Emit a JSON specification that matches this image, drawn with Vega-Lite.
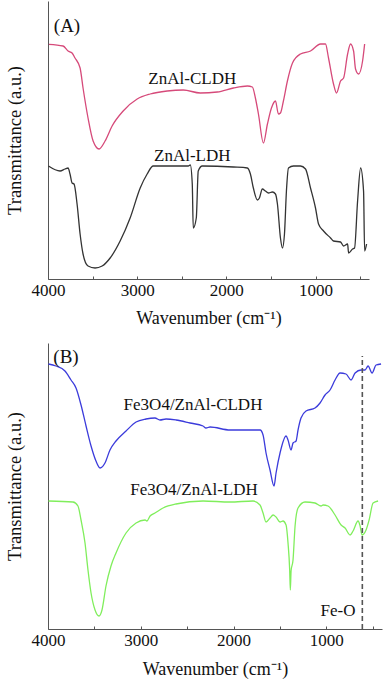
{
  "$schema": "https://vega.github.io/schema/vega-lite/v6.json",
  "padding": {"left": 5, "top": 1, "right": 5, "bottom": 2},
  "background": "white",
  "config": {
    "font": "Liberation Serif",
    "view": {"stroke": null},
    "axis": {"grid": false, "domainColor": "#555555", "tickColor": "#555555", "labelFont": "Liberation Serif", "titleFont": "Liberation Serif", "labelFontSize": 17, "titleFontSize": 18, "labelColor": "#111111", "titleColor": "#111111", "titleFontWeight": "normal"}
  },
  "spacing": 16,
  "resolve": {"scale": {"color": "independent"}},
  "datasets": {
    "a": [
      {"s": "ZnAl-CLDH", "w": 3990, "t": 234.7}, {"s": "ZnAl-CLDH", "w": 3831, "t": 233}, {"s": "ZnAl-CLDH", "w": 3775, "t": 228}, {"s": "ZnAl-CLDH", "w": 3730, "t": 226}, {"s": "ZnAl-CLDH", "w": 3697, "t": 221}, {"s": "ZnAl-CLDH", "w": 3640, "t": 211}, {"s": "ZnAl-CLDH", "w": 3607, "t": 191}, {"s": "ZnAl-CLDH", "w": 3551, "t": 161}, {"s": "ZnAl-CLDH", "w": 3494, "t": 138}, {"s": "ZnAl-CLDH", "w": 3427, "t": 130}, {"s": "ZnAl-CLDH", "w": 3360, "t": 138}, {"s": "ZnAl-CLDH", "w": 3281, "t": 153}, {"s": "ZnAl-CLDH", "w": 3157, "t": 168}, {"s": "ZnAl-CLDH", "w": 3000, "t": 180}, {"s": "ZnAl-CLDH", "w": 2854, "t": 185}, {"s": "ZnAl-CLDH", "w": 2663, "t": 188}, {"s": "ZnAl-CLDH", "w": 2483, "t": 189}, {"s": "ZnAl-CLDH", "w": 2292, "t": 186}, {"s": "ZnAl-CLDH", "w": 2101, "t": 187}, {"s": "ZnAl-CLDH", "w": 1921, "t": 191}, {"s": "ZnAl-CLDH", "w": 1764, "t": 193}, {"s": "ZnAl-CLDH", "w": 1708, "t": 192}, {"s": "ZnAl-CLDH", "w": 1674, "t": 181}, {"s": "ZnAl-CLDH", "w": 1640, "t": 165}, {"s": "ZnAl-CLDH", "w": 1584, "t": 136}, {"s": "ZnAl-CLDH", "w": 1539, "t": 155}, {"s": "ZnAl-CLDH", "w": 1494, "t": 171}, {"s": "ZnAl-CLDH", "w": 1449, "t": 178}, {"s": "ZnAl-CLDH", "w": 1416, "t": 165}, {"s": "ZnAl-CLDH", "w": 1393, "t": 166}, {"s": "ZnAl-CLDH", "w": 1360, "t": 178}, {"s": "ZnAl-CLDH", "w": 1315, "t": 198}, {"s": "ZnAl-CLDH", "w": 1258, "t": 216}, {"s": "ZnAl-CLDH", "w": 1169, "t": 225}, {"s": "ZnAl-CLDH", "w": 1056, "t": 228}, {"s": "ZnAl-CLDH", "w": 944, "t": 235}, {"s": "ZnAl-CLDH", "w": 888, "t": 235}, {"s": "ZnAl-CLDH", "w": 854, "t": 221}, {"s": "ZnAl-CLDH", "w": 798, "t": 195}, {"s": "ZnAl-CLDH", "w": 764, "t": 186}, {"s": "ZnAl-CLDH", "w": 719, "t": 198}, {"s": "ZnAl-CLDH", "w": 685, "t": 201}, {"s": "ZnAl-CLDH", "w": 640, "t": 225}, {"s": "ZnAl-CLDH", "w": 607, "t": 235}, {"s": "ZnAl-CLDH", "w": 573, "t": 228}, {"s": "ZnAl-CLDH", "w": 551, "t": 210}, {"s": "ZnAl-CLDH", "w": 517, "t": 205}, {"s": "ZnAl-CLDH", "w": 472, "t": 218}, {"s": "ZnAl-CLDH", "w": 449, "t": 235},
      {"s": "ZnAl-LDH", "w": 3995, "t": 113}, {"s": "ZnAl-LDH", "w": 3865, "t": 108}, {"s": "ZnAl-LDH", "w": 3809, "t": 110}, {"s": "ZnAl-LDH", "w": 3775, "t": 111}, {"s": "ZnAl-LDH", "w": 3753, "t": 105}, {"s": "ZnAl-LDH", "w": 3730, "t": 96}, {"s": "ZnAl-LDH", "w": 3708, "t": 95}, {"s": "ZnAl-LDH", "w": 3674, "t": 75}, {"s": "ZnAl-LDH", "w": 3640, "t": 45}, {"s": "ZnAl-LDH", "w": 3607, "t": 25}, {"s": "ZnAl-LDH", "w": 3551, "t": 13}, {"s": "ZnAl-LDH", "w": 3472, "t": 11}, {"s": "ZnAl-LDH", "w": 3393, "t": 13}, {"s": "ZnAl-LDH", "w": 3303, "t": 21}, {"s": "ZnAl-LDH", "w": 3191, "t": 38}, {"s": "ZnAl-LDH", "w": 3079, "t": 61}, {"s": "ZnAl-LDH", "w": 2966, "t": 91}, {"s": "ZnAl-LDH", "w": 2888, "t": 105}, {"s": "ZnAl-LDH", "w": 2820, "t": 113}, {"s": "ZnAl-LDH", "w": 2663, "t": 113}, {"s": "ZnAl-LDH", "w": 2427, "t": 113}, {"s": "ZnAl-LDH", "w": 2404, "t": 114}, {"s": "ZnAl-LDH", "w": 2382, "t": 95}, {"s": "ZnAl-LDH", "w": 2371, "t": 51}, {"s": "ZnAl-LDH", "w": 2337, "t": 61}, {"s": "ZnAl-LDH", "w": 2315, "t": 108}, {"s": "ZnAl-LDH", "w": 2270, "t": 113}, {"s": "ZnAl-LDH", "w": 1921, "t": 112}, {"s": "ZnAl-LDH", "w": 1764, "t": 111}, {"s": "ZnAl-LDH", "w": 1730, "t": 105}, {"s": "ZnAl-LDH", "w": 1697, "t": 91}, {"s": "ZnAl-LDH", "w": 1652, "t": 79}, {"s": "ZnAl-LDH", "w": 1629, "t": 81}, {"s": "ZnAl-LDH", "w": 1596, "t": 90}, {"s": "ZnAl-LDH", "w": 1562, "t": 88}, {"s": "ZnAl-LDH", "w": 1528, "t": 86}, {"s": "ZnAl-LDH", "w": 1483, "t": 87}, {"s": "ZnAl-LDH", "w": 1449, "t": 85}, {"s": "ZnAl-LDH", "w": 1427, "t": 75}, {"s": "ZnAl-LDH", "w": 1393, "t": 41}, {"s": "ZnAl-LDH", "w": 1371, "t": 31}, {"s": "ZnAl-LDH", "w": 1348, "t": 45}, {"s": "ZnAl-LDH", "w": 1326, "t": 88}, {"s": "ZnAl-LDH", "w": 1303, "t": 111}, {"s": "ZnAl-LDH", "w": 1247, "t": 113}, {"s": "ZnAl-LDH", "w": 1169, "t": 113}, {"s": "ZnAl-LDH", "w": 1112, "t": 110}, {"s": "ZnAl-LDH", "w": 1056, "t": 91}, {"s": "ZnAl-LDH", "w": 1000, "t": 71}, {"s": "ZnAl-LDH", "w": 966, "t": 55}, {"s": "ZnAl-LDH", "w": 910, "t": 48}, {"s": "ZnAl-LDH", "w": 831, "t": 41}, {"s": "ZnAl-LDH", "w": 798, "t": 38}, {"s": "ZnAl-LDH", "w": 719, "t": 37}, {"s": "ZnAl-LDH", "w": 685, "t": 33}, {"s": "ZnAl-LDH", "w": 640, "t": 35}, {"s": "ZnAl-LDH", "w": 629, "t": 26}, {"s": "ZnAl-LDH", "w": 584, "t": 30}, {"s": "ZnAl-LDH", "w": 562, "t": 31}, {"s": "ZnAl-LDH", "w": 528, "t": 78}, {"s": "ZnAl-LDH", "w": 494, "t": 111}, {"s": "ZnAl-LDH", "w": 461, "t": 88}, {"s": "ZnAl-LDH", "w": 449, "t": 28}, {"s": "ZnAl-LDH", "w": 427, "t": 35}
    ],
    "b": [
      {"s": "Fe3O4/ZnAl-CLDH", "w": 3995, "t": 265}, {"s": "Fe3O4/ZnAl-CLDH", "w": 3914, "t": 263}, {"s": "Fe3O4/ZnAl-CLDH", "w": 3817, "t": 258}, {"s": "Fe3O4/ZnAl-CLDH", "w": 3752, "t": 249}, {"s": "Fe3O4/ZnAl-CLDH", "w": 3698, "t": 241}, {"s": "Fe3O4/ZnAl-CLDH", "w": 3644, "t": 224}, {"s": "Fe3O4/ZnAl-CLDH", "w": 3590, "t": 203}, {"s": "Fe3O4/ZnAl-CLDH", "w": 3536, "t": 183}, {"s": "Fe3O4/ZnAl-CLDH", "w": 3483, "t": 168}, {"s": "Fe3O4/ZnAl-CLDH", "w": 3439, "t": 161}, {"s": "Fe3O4/ZnAl-CLDH", "w": 3386, "t": 166}, {"s": "Fe3O4/ZnAl-CLDH", "w": 3332, "t": 179}, {"s": "Fe3O4/ZnAl-CLDH", "w": 3267, "t": 188}, {"s": "Fe3O4/ZnAl-CLDH", "w": 3159, "t": 198}, {"s": "Fe3O4/ZnAl-CLDH", "w": 3051, "t": 207}, {"s": "Fe3O4/ZnAl-CLDH", "w": 2944, "t": 210}, {"s": "Fe3O4/ZnAl-CLDH", "w": 2847, "t": 211}, {"s": "Fe3O4/ZnAl-CLDH", "w": 2793, "t": 209}, {"s": "Fe3O4/ZnAl-CLDH", "w": 2728, "t": 210}, {"s": "Fe3O4/ZnAl-CLDH", "w": 2620, "t": 209}, {"s": "Fe3O4/ZnAl-CLDH", "w": 2469, "t": 206}, {"s": "Fe3O4/ZnAl-CLDH", "w": 2329, "t": 203}, {"s": "Fe3O4/ZnAl-CLDH", "w": 2297, "t": 201}, {"s": "Fe3O4/ZnAl-CLDH", "w": 2253, "t": 202}, {"s": "Fe3O4/ZnAl-CLDH", "w": 2038, "t": 199}, {"s": "Fe3O4/ZnAl-CLDH", "w": 1822, "t": 199}, {"s": "Fe3O4/ZnAl-CLDH", "w": 1714, "t": 199}, {"s": "Fe3O4/ZnAl-CLDH", "w": 1682, "t": 194}, {"s": "Fe3O4/ZnAl-CLDH", "w": 1650, "t": 176}, {"s": "Fe3O4/ZnAl-CLDH", "w": 1607, "t": 159}, {"s": "Fe3O4/ZnAl-CLDH", "w": 1564, "t": 143}, {"s": "Fe3O4/ZnAl-CLDH", "w": 1542, "t": 156}, {"s": "Fe3O4/ZnAl-CLDH", "w": 1499, "t": 176}, {"s": "Fe3O4/ZnAl-CLDH", "w": 1434, "t": 193}, {"s": "Fe3O4/ZnAl-CLDH", "w": 1413, "t": 189}, {"s": "Fe3O4/ZnAl-CLDH", "w": 1380, "t": 179}, {"s": "Fe3O4/ZnAl-CLDH", "w": 1359, "t": 186}, {"s": "Fe3O4/ZnAl-CLDH", "w": 1326, "t": 188}, {"s": "Fe3O4/ZnAl-CLDH", "w": 1305, "t": 199}, {"s": "Fe3O4/ZnAl-CLDH", "w": 1273, "t": 211}, {"s": "Fe3O4/ZnAl-CLDH", "w": 1219, "t": 218}, {"s": "Fe3O4/ZnAl-CLDH", "w": 1122, "t": 221}, {"s": "Fe3O4/ZnAl-CLDH", "w": 1068, "t": 226}, {"s": "Fe3O4/ZnAl-CLDH", "w": 1014, "t": 234}, {"s": "Fe3O4/ZnAl-CLDH", "w": 960, "t": 239}, {"s": "Fe3O4/ZnAl-CLDH", "w": 906, "t": 249}, {"s": "Fe3O4/ZnAl-CLDH", "w": 852, "t": 256}, {"s": "Fe3O4/ZnAl-CLDH", "w": 788, "t": 255}, {"s": "Fe3O4/ZnAl-CLDH", "w": 733, "t": 249}, {"s": "Fe3O4/ZnAl-CLDH", "w": 690, "t": 256}, {"s": "Fe3O4/ZnAl-CLDH", "w": 626, "t": 259}, {"s": "Fe3O4/ZnAl-CLDH", "w": 583, "t": 259}, {"s": "Fe3O4/ZnAl-CLDH", "w": 550, "t": 263}, {"s": "Fe3O4/ZnAl-CLDH", "w": 507, "t": 256}, {"s": "Fe3O4/ZnAl-CLDH", "w": 464, "t": 264}, {"s": "Fe3O4/ZnAl-CLDH", "w": 410, "t": 265},
      {"s": "Fe3O4/ZnAl-LDH", "w": 3995, "t": 128}, {"s": "Fe3O4/ZnAl-LDH", "w": 3731, "t": 127}, {"s": "Fe3O4/ZnAl-LDH", "w": 3677, "t": 123}, {"s": "Fe3O4/ZnAl-LDH", "w": 3644, "t": 109}, {"s": "Fe3O4/ZnAl-LDH", "w": 3601, "t": 86}, {"s": "Fe3O4/ZnAl-LDH", "w": 3569, "t": 59}, {"s": "Fe3O4/ZnAl-LDH", "w": 3536, "t": 36}, {"s": "Fe3O4/ZnAl-LDH", "w": 3493, "t": 19}, {"s": "Fe3O4/ZnAl-LDH", "w": 3450, "t": 13}, {"s": "Fe3O4/ZnAl-LDH", "w": 3418, "t": 19}, {"s": "Fe3O4/ZnAl-LDH", "w": 3375, "t": 43}, {"s": "Fe3O4/ZnAl-LDH", "w": 3321, "t": 63}, {"s": "Fe3O4/ZnAl-LDH", "w": 3267, "t": 76}, {"s": "Fe3O4/ZnAl-LDH", "w": 3159, "t": 96}, {"s": "Fe3O4/ZnAl-LDH", "w": 3051, "t": 106}, {"s": "Fe3O4/ZnAl-LDH", "w": 2954, "t": 109}, {"s": "Fe3O4/ZnAl-LDH", "w": 2933, "t": 108}, {"s": "Fe3O4/ZnAl-LDH", "w": 2900, "t": 113}, {"s": "Fe3O4/ZnAl-LDH", "w": 2847, "t": 116}, {"s": "Fe3O4/ZnAl-LDH", "w": 2760, "t": 121}, {"s": "Fe3O4/ZnAl-LDH", "w": 2620, "t": 125}, {"s": "Fe3O4/ZnAl-LDH", "w": 2329, "t": 128}, {"s": "Fe3O4/ZnAl-LDH", "w": 2038, "t": 127}, {"s": "Fe3O4/ZnAl-LDH", "w": 1790, "t": 128}, {"s": "Fe3O4/ZnAl-LDH", "w": 1715, "t": 124}, {"s": "Fe3O4/ZnAl-LDH", "w": 1682, "t": 116}, {"s": "Fe3O4/ZnAl-LDH", "w": 1650, "t": 107}, {"s": "Fe3O4/ZnAl-LDH", "w": 1607, "t": 111}, {"s": "Fe3O4/ZnAl-LDH", "w": 1574, "t": 114}, {"s": "Fe3O4/ZnAl-LDH", "w": 1542, "t": 112}, {"s": "Fe3O4/ZnAl-LDH", "w": 1499, "t": 107}, {"s": "Fe3O4/ZnAl-LDH", "w": 1467, "t": 108}, {"s": "Fe3O4/ZnAl-LDH", "w": 1434, "t": 104}, {"s": "Fe3O4/ZnAl-LDH", "w": 1413, "t": 86}, {"s": "Fe3O4/ZnAl-LDH", "w": 1395, "t": 59}, {"s": "Fe3O4/ZnAl-LDH", "w": 1388, "t": 39}, {"s": "Fe3O4/ZnAl-LDH", "w": 1380, "t": 58}, {"s": "Fe3O4/ZnAl-LDH", "w": 1359, "t": 69}, {"s": "Fe3O4/ZnAl-LDH", "w": 1337, "t": 103}, {"s": "Fe3O4/ZnAl-LDH", "w": 1305, "t": 121}, {"s": "Fe3O4/ZnAl-LDH", "w": 1230, "t": 127}, {"s": "Fe3O4/ZnAl-LDH", "w": 1122, "t": 126}, {"s": "Fe3O4/ZnAl-LDH", "w": 1057, "t": 123}, {"s": "Fe3O4/ZnAl-LDH", "w": 1035, "t": 124}, {"s": "Fe3O4/ZnAl-LDH", "w": 982, "t": 123}, {"s": "Fe3O4/ZnAl-LDH", "w": 906, "t": 114}, {"s": "Fe3O4/ZnAl-LDH", "w": 841, "t": 104}, {"s": "Fe3O4/ZnAl-LDH", "w": 798, "t": 101}, {"s": "Fe3O4/ZnAl-LDH", "w": 744, "t": 94}, {"s": "Fe3O4/ZnAl-LDH", "w": 712, "t": 98}, {"s": "Fe3O4/ZnAl-LDH", "w": 658, "t": 108}, {"s": "Fe3O4/ZnAl-LDH", "w": 636, "t": 103}, {"s": "Fe3O4/ZnAl-LDH", "w": 615, "t": 94}, {"s": "Fe3O4/ZnAl-LDH", "w": 572, "t": 99}, {"s": "Fe3O4/ZnAl-LDH", "w": 539, "t": 109}, {"s": "Fe3O4/ZnAl-LDH", "w": 496, "t": 126}, {"s": "Fe3O4/ZnAl-LDH", "w": 442, "t": 128}
    ],
    "labA": [
      {"label": "(A)", "w": 3787, "t": 253, "size": 19},
      {"label": "ZnAl-CLDH", "w": 2382, "t": 200, "size": 17},
      {"label": "ZnAl-LDH", "w": 2382, "t": 123, "size": 17}
    ],
    "labB": [
      {"label": "(B)", "w": 3806, "t": 272, "size": 19},
      {"label": "Fe3O4/ZnAl-CLDH", "w": 2437, "t": 224, "size": 17},
      {"label": "Fe3O4/ZnAl-LDH", "w": 2426, "t": 139, "size": 17},
      {"label": "Fe-O", "w": 874, "t": 18, "size": 17}
    ],
    "rule": [{"w": 612, "t0": 0, "t1": 273}]
  },
  "vconcat": [
    {
      "width": 321,
      "height": 278,
      "layer": [
        {
          "data": {"name": "a"},
          "mark": {"type": "line", "strokeWidth": 1.3, "interpolate": "monotone"},
          "encoding": {
            "x": {"field": "w", "type": "quantitative", "scale": {"domain": [400, 4000], "reverse": true, "nice": false, "zero": false},
              "axis": {"title": "Wavenumber (cm⁻¹)", "values": [4000, 3500, 3000, 2500, 2000, 1500, 1000, 500], "labelExpr": "datum.value % 1000 === 0 ? datum.label : ''", "format": "d", "tickSize": -3, "labelPadding": 6, "titlePadding": 11, "labelFlush": false}},
            "y": {"field": "t", "type": "quantitative", "scale": {"domain": [0, 278], "nice": false, "zero": false},
              "axis": {"title": "Transmittance (a.u.)", "titleFontSize": 18.5, "labels": false, "ticks": false, "titlePadding": 24}},
            "color": {"field": "s", "type": "nominal", "scale": {"domain": ["ZnAl-CLDH", "ZnAl-LDH"], "range": ["#d64a7a", "#333333"]}, "legend": null}
          }
        },
        {
          "data": {"name": "labA"},
          "mark": {"type": "text", "font": "Liberation Serif", "color": "#111111", "baseline": "middle", "align": "center"},
          "encoding": {
            "x": {"field": "w", "type": "quantitative"},
            "y": {"field": "t", "type": "quantitative"},
            "text": {"field": "label"},
            "size": {"field": "size", "type": "quantitative", "scale": null}
          }
        }
      ]
    },
    {
      "width": 334,
      "height": 286,
      "layer": [
        {
          "data": {"name": "b"},
          "mark": {"type": "line", "strokeWidth": 1.3, "interpolate": "monotone"},
          "encoding": {
            "x": {"field": "w", "type": "quantitative", "scale": {"domain": [400, 4000], "reverse": true, "nice": false, "zero": false},
              "axis": {"title": "Wavenumber (cm⁻¹)", "values": [4000, 3500, 3000, 2500, 2000, 1500, 1000, 500], "labelExpr": "datum.value % 1000 === 0 ? datum.label : ''", "format": "d", "tickSize": -3, "labelPadding": 6, "titlePadding": 12, "labelFlush": false}},
            "y": {"field": "t", "type": "quantitative", "scale": {"domain": [0, 286], "nice": false, "zero": false},
              "axis": {"title": "Transmittance (a.u.)", "titleFontSize": 18.5, "labels": false, "ticks": false, "titlePadding": 24}},
            "color": {"field": "s", "type": "nominal", "scale": {"domain": ["Fe3O4/ZnAl-CLDH", "Fe3O4/ZnAl-LDH"], "range": ["#3b3bdb", "#80ee5c"]}, "legend": null}
          }
        },
        {
          "data": {"name": "rule"},
          "mark": {"type": "rule", "color": "#555555", "strokeWidth": 1.6, "strokeDash": [5, 3]},
          "encoding": {
            "x": {"field": "w", "type": "quantitative"},
            "y": {"field": "t0", "type": "quantitative"},
            "y2": {"field": "t1"}
          }
        },
        {
          "data": {"name": "labB"},
          "mark": {"type": "text", "font": "Liberation Serif", "color": "#111111", "baseline": "middle", "align": "center"},
          "encoding": {
            "x": {"field": "w", "type": "quantitative"},
            "y": {"field": "t", "type": "quantitative"},
            "text": {"field": "label"},
            "size": {"field": "size", "type": "quantitative", "scale": null}
          }
        }
      ]
    }
  ]
}
